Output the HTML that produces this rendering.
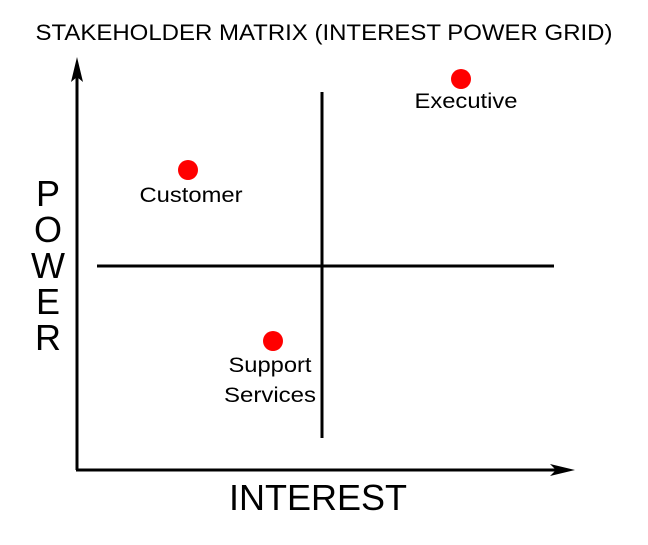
<!DOCTYPE html>
<html><head><style>body{margin:0;background:#fff}</style></head><body>
<svg width="648" height="540" xmlns="http://www.w3.org/2000/svg" font-family="Liberation Sans, sans-serif">
<rect width="648" height="540" fill="#fff"/>
<text x="324" y="40" font-size="22" text-anchor="middle" textLength="577" lengthAdjust="spacingAndGlyphs">STAKEHOLDER MATRIX (INTEREST POWER GRID)</text>
<line x1="77" y1="470" x2="77" y2="70" stroke="#000" stroke-width="3"/>
<polygon points="77,57 71,82 77,77 83,82" fill="#000"/>
<line x1="76" y1="470" x2="562" y2="470" stroke="#000" stroke-width="3"/>
<polygon points="575,470 550,464 556,470 550,476" fill="#000"/>
<line x1="322" y1="92" x2="322" y2="438" stroke="#000" stroke-width="3"/>
<line x1="97" y1="266" x2="554" y2="266" stroke="#000" stroke-width="3"/>
<circle cx="461" cy="79" r="10" fill="#f00"/>
<circle cx="188" cy="170" r="10" fill="#f00"/>
<circle cx="273" cy="341" r="10" fill="#f00"/>
<g font-size="21" text-anchor="middle" lengthAdjust="spacingAndGlyphs">
<text x="466" y="108" textLength="103" lengthAdjust="spacingAndGlyphs">Executive</text>
<text x="191" y="202" textLength="103" lengthAdjust="spacingAndGlyphs">Customer</text>
<text x="270" y="372" textLength="83" lengthAdjust="spacingAndGlyphs">Support</text>
<text x="270" y="402" textLength="92" lengthAdjust="spacingAndGlyphs">Services</text>
</g>
<g font-size="36" text-anchor="middle">
<text x="48" y="206">P</text>
<text x="48" y="242">O</text>
<text x="48" y="278">W</text>
<text x="48" y="314">E</text>
<text x="48" y="350">R</text>
<text x="318" y="510">INTEREST</text>
</g>
</svg>
</body></html>
